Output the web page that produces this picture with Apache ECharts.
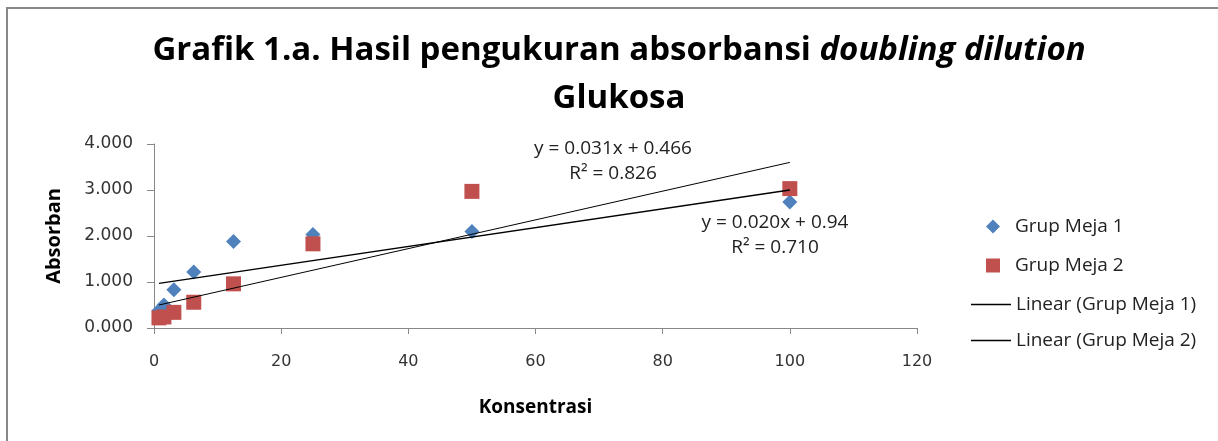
<!DOCTYPE html>
<html>
<head>
<meta charset="utf-8">
<script src="https://cdn.jsdelivr.net/npm/echarts@6/dist/echarts.min.js"></script>
<style>
  html, body { margin: 0; padding: 0; background: #fff; }
  #chart { width: 1218px; height: 441px; }
</style>
</head>
<body>
<div id="chart"></div>
<script>
// konsentrasi (doubling dilution) dan absorban tiap grup
var konsentrasi = [0.78, 1.5625, 3.125, 6.25, 12.5, 25, 50, 100]
var grupMeja1 = [0.38, 0.5, 0.83, 1.22, 1.88, 2.03, 2.1, 2.74]
var grupMeja2 = [0.22, 0.24, 0.34, 0.56, 0.96, 1.83, 2.97, 3.03]

// ujung garis trendline
var trend1X = [0.78, 100]
var trend1Y = [0.97, 3.0]
var trend2X = [0.78, 100]
var trend2Y = [0.5, 3.6]

var eq1 = ['y = 0.020x + 0.94', 'R² = 0.710']
var eq2 = ['y = 0.031x + 0.466', 'R² = 0.826']

function pairs(xs, ys) {
  return xs.map(function (x, i) { return [x, ys[i]] })
}

var font = 'Open Sans'
var legendText = { fontFamily: font, fontSize: 19, color: '#222', lineHeight: 18 }
var chart = echarts.init(document.getElementById('chart'))
chart.setOption({
  backgroundColor: '#fff',
  animation: false,
  title: {
    text: '{b|Grafik 1.a. Hasil pengukuran absorbansi }{i|doubling dilution}\n{b|Glukosa}',
    left: 614,
    top: 22,
    textAlign: 'center',
    textStyle: {
      rich: {
        b: { fontFamily: font, fontWeight: 'bold', fontSize: 33, color: '#000', lineHeight: 48 },
        i: { fontFamily: font, fontWeight: 'bold', fontStyle: 'italic', fontSize: 33, color: '#000', lineHeight: 48 }
      }
    }
  },
  grid: { left: 154, right: 301, top: 144, bottom: 113 },
  legend: [
    {
      orient: 'vertical',
      left: 981,
      top: 212,
      itemWidth: 14,
      itemHeight: 14,
      itemGap: 20,
      textStyle: Object.assign({ padding: [0, 0, 0, 10] }, legendText),
      data: [
        { name: 'Grup Meja 1', icon: 'diamond' },
        { name: 'Grup Meja 2', icon: 'rect' }
      ]
    },
    {
      orient: 'vertical',
      left: 966,
      top: 290,
      itemWidth: 40,
      itemHeight: 1.5,
      itemGap: 17,
      textStyle: Object.assign({ padding: [0, 0, 0, 0] }, legendText),
      data: [
        { name: 'Linear (Grup Meja 1)', icon: 'rect' },
        { name: 'Linear (Grup Meja 2)', icon: 'rect' }
      ]
    }
  ],
  xAxis: {
    type: 'value',
    min: 0,
    max: 120,
    interval: 20,
    name: 'Konsentrasi',
    nameLocation: 'middle',
    nameGap: 70,
    nameTextStyle: { fontFamily: font, fontWeight: 'bold', fontSize: 19, color: '#000' },
    axisLine: { lineStyle: { color: '#888' } },
    axisTick: { show: true, length: 6, lineStyle: { color: '#888' } },
    axisLabel: { margin: 26, fontFamily: 'DejaVu Sans', fontSize: 16, color: '#333' },
    splitLine: { show: false }
  },
  yAxis: {
    type: 'value',
    min: 0,
    max: 4,
    interval: 1,
    name: 'Absorban',
    nameLocation: 'middle',
    nameGap: 90,
    nameRotate: 90,
    nameTextStyle: { fontFamily: font, fontWeight: 'bold', fontSize: 20, color: '#000' },
    axisLine: { show: true, lineStyle: { color: '#888' } },
    axisTick: { show: true, length: 7, lineStyle: { color: '#888' } },
    axisLabel: {
      margin: 21,
      fontFamily: 'DejaVu Sans',
      fontSize: 17,
      color: '#333',
      formatter: function (v) { return v.toFixed(3) }
    },
    splitLine: { show: false }
  },
  series: [
    {
      name: 'Grup Meja 1',
      type: 'scatter',
      symbol: 'diamond',
      symbolSize: 15,
      itemStyle: { color: '#4F81BD', opacity: 1 },
      data: pairs(konsentrasi, grupMeja1)
    },
    {
      name: 'Grup Meja 2',
      type: 'scatter',
      symbol: 'rect',
      symbolSize: 15,
      itemStyle: { color: '#C0504D', opacity: 1 },
      data: pairs(konsentrasi, grupMeja2)
    },
    {
      name: 'Linear (Grup Meja 1)',
      type: 'line',
      symbol: 'none',
      lineStyle: { color: '#000', width: 1.3 },
      itemStyle: { color: '#000' },
      data: pairs(trend1X, trend1Y)
    },
    {
      name: 'Linear (Grup Meja 2)',
      type: 'line',
      symbol: 'none',
      lineStyle: { color: '#000', width: 1 },
      itemStyle: { color: '#000' },
      data: pairs(trend2X, trend2Y)
    }
  ],
  graphic: [
    {
      type: 'rect',
      shape: { x: 7, y: 8, width: 1400, height: 600 },
      style: { fill: 'none', stroke: '#888', lineWidth: 2 },
      silent: true
    },
    {
      type: 'text',
      x: 613, y: 161,
      style: { text: eq2[0] + '\n' + eq2[1], font: '19px "Open Sans"', fill: '#222', align: 'center', verticalAlign: 'middle', lineHeight: 25 }
    },
    {
      type: 'text',
      x: 775, y: 235,
      style: { text: eq1[0] + '\n' + eq1[1], font: '19px "Open Sans"', fill: '#222', align: 'center', verticalAlign: 'middle', lineHeight: 25 }
    }
  ]
})
</script>
</body>
</html>
